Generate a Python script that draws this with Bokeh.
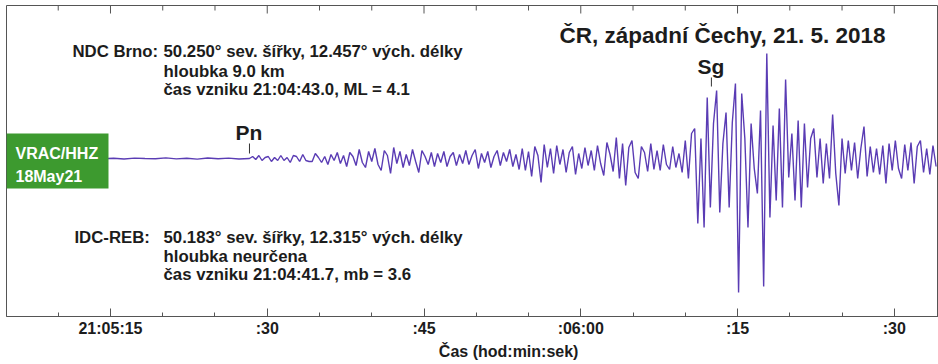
import numpy as np
from bokeh.plotting import figure
from bokeh.models import Range1d, FixedTicker, LinearAxis, Label, BoxAnnotation, ColumnDataSource
from bokeh.embed import file_html
from bokeh.resources import INLINE

# ---------------- data ----------------
# time axis: seconds after 21:05:00
tick_seconds = [15, 30, 45, 60, 75, 90]
tick_labels = ["21:05:15", ":30", ":45", ":06:00", ":15", ":30"]
minor_seconds = [10, 20, 25, 35, 40, 50, 55, 65, 70, 80, 85]

# pre-event noise (1 s samples starting 21:05:05.3)
pre_start = 5.3
pre_step = 1.0
pre_amp = [0, 0.5, -0.3, 0.2, -0.5, 0.3, 0, -0.4, 0.5, -0.2, 0.3, -0.5,
           0.4, 0, -0.3, 0.6, -0.4, 0.2, -0.6, 0.5, -0.3, 0.4, -0.5]

# event record (0.3 s samples starting at Pn onset 21:05:28.3)
event_start = 28.3
event_step = 0.3
event_amp = [
    0, 2, -1, 3, -2, 1, 2, -3, 1, -2,
    3, -2, 1, -4, 3, 2, -3, 4, -2, -3,
    -3, 5, 1, -4, 2, -6, 4, -2, 6, -5,
    3, -8, 6, 2, -7, 9, -4, -9, 7, -3,
    10, -6, -12, 8, 3, -15, 11, -5, 7, -9,
    4, -7, 9, -3, -14, 8, 2, -6, 6, -8,
    5, -4, 7, -8, 2, 6, -7, 4, -5, 8,
    -6, 3, 9, -10, 5, -4, 7, -9, 2, 8,
    -7, 6, -3, 9, -8, 4, -11, 10, -12, 7,
    -18, 12, 3, -24, 14, -9, 10, -15, 13, -6,
    9, -14, 6, 12, -16, 5, -10, 11, -7, 8,
    -12, 13, -5, -17, 16, 4, -13, 21, -20, 15,
    -27, 11, 18, -14, -20, 12, 6, -13, 15, -11,
    8, -12, 14, -6, -11, 12, -9, 5, -14, 18,
    -20, 25, 30, -65, 20, -69, 61, -49, 35, 68,
    -54, 15, 46, -49, 36, 75, -134, 65, 20, -69,
    35, -10, -35, 48, -128, 105, -59, 33, -42, 50,
    -49, 79, -19, 25, -42, 38, -49, 35, -29, 20,
    30, -19, 20, -25, 15, -20, 44, -15, -47, 20,
    -15, 18, -12, 16, -20, 10, 32, -18, 12, -14,
    10, -16, 13, -25, 15, -12, 18, -10, -20, 14,
    -12, 16, -25, 12, 18, -14, 10, -16, 13, -8,
]

phase_names = ["Pn", "Sg"]
phase_times = [28.3, 72.5]

station_lines = ["VRAC/HHZ", "18May21"]
title_text = "ČR, západní Čechy, 21. 5. 2018"
ndc_head = "NDC Brno:"
ndc_lines = ["50.250° sev. šířky, 12.457° vých. délky", "hloubka 9.0 km",
             "čas vzniku 21:04:43.0, ML = 4.1"]
idc_head = "IDC-REB:"
idc_lines = ["50.183° sev. šířky, 12.315° vých. délky", "hloubka neurčena",
             "čas vzniku 21:04:41.7, mb = 3.6"]
axis_title = "Čas (hod:min:sek)"
axis_title_at = 53.1   # seconds, centre of the axis title

# ---------------- build ----------------
t = np.concatenate([pre_start + np.arange(len(pre_amp)) * pre_step,
                    event_start + np.arange(len(event_amp)) * event_step])
a = np.concatenate([pre_amp, event_amp])
src = ColumnDataSource(dict(t=t, a=a))

FONT = "Liberation Sans"
TXT = "#1c1c1c"
AX = "#555555"
Y_TOP = 153

p = figure(width=938, height=364, x_range=Range1d(5.05, 94.23), y_range=Range1d(-158, Y_TOP),
           output_backend="svg", toolbar_location=None,
           x_axis_location=None, y_axis_location=None,
           min_border_left=6, min_border_right=0, min_border_top=5, min_border_bottom=48)
p.grid.grid_line_color = None
p.outline_line_color = AX
p.background_fill_color = "white"
p.border_fill_color = "white"

ticker = FixedTicker(ticks=tick_seconds, minor_ticks=minor_seconds)

bottom = LinearAxis(ticker=ticker, major_label_overrides=dict(zip(tick_seconds, tick_labels)))
bottom.major_tick_in = 8
bottom.major_tick_out = 0
bottom.minor_tick_in = 4
bottom.minor_tick_out = 0
bottom.major_label_standoff = 3
bottom.major_label_text_font = FONT
bottom.major_label_text_font_style = "bold"
bottom.major_label_text_font_size = "16px"
bottom.major_label_text_color = TXT
bottom.axis_line_color = AX
bottom.major_tick_line_color = AX
bottom.minor_tick_line_color = AX
p.add_layout(bottom, "below")

# axis title drawn as a second, tick-less axis so it can sit off-centre like the original
title_axis = LinearAxis(ticker=FixedTicker(ticks=[axis_title_at], minor_ticks=[]),
                        major_label_overrides={axis_title_at: axis_title})
title_axis.axis_line_color = None
title_axis.major_tick_line_color = None
title_axis.minor_tick_line_color = None
title_axis.major_tick_in = 0
title_axis.major_tick_out = 0
title_axis.major_label_standoff = 3
title_axis.major_label_text_font = FONT
title_axis.major_label_text_font_style = "bold"
title_axis.major_label_text_font_size = "16px"
title_axis.major_label_text_color = TXT
p.add_layout(title_axis, "below")

# inward ticks along the top edge
p.segment(x0=tick_seconds, x1=tick_seconds, y0=Y_TOP, y1=Y_TOP - 8, line_color=AX, line_width=1)
p.segment(x0=minor_seconds, x1=minor_seconds, y0=Y_TOP, y1=Y_TOP - 5, line_color=AX, line_width=1)

# seismogram
p.line("t", "a", source=src, line_color="#5a3cb4", line_width=1.4)

# phase pick marks
p.segment(x0=phase_times, x1=phase_times, y0=[5, 72], y1=[15, 81], line_color="#333333", line_width=1)


def lab(x, y, text, size="16.8px", color=TXT, level="annotation"):
    p.add_layout(Label(x=x, y=y, text=text, text_font=FONT, text_font_style="bold",
                       text_font_size=size, text_color=color, text_baseline="alphabetic",
                       level=level))


lab(26.96, 26, phase_names[0], "21px")
lab(71.17, 92, phase_names[1], "21px")

# station badge
p.add_layout(BoxAnnotation(left=5.05, right=14.81, top=25, bottom=-30, fill_color="#3d9a2f",
                           fill_alpha=1, line_color=None, level="overlay"))
for s, yy in zip(station_lines, [5, -18]):
    lab(5.91, yy, s, "16px", "white", "overlay")

# title
lab(57.97, 123, title_text, "22.5px")

# info blocks
def block(head, lines, hx, vx, ys):
    lab(hx, ys[0], head)
    for s, yy in zip(lines, ys):
        lab(vx, yy, s)

block(ndc_head, ndc_lines, 11.36, 20.07, [107, 87, 69])
block(idc_head, idc_lines, 11.55, 20.07, [-79, -98, -116])

open("out.html", "w").write(file_html(p, INLINE))
